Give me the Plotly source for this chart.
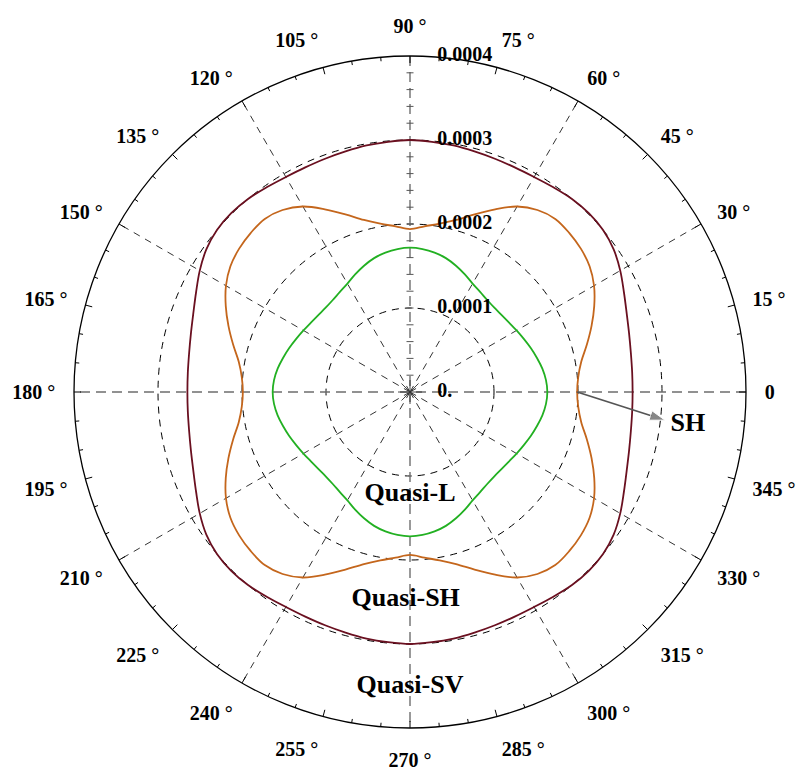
import plotly.graph_objects as go

# Phase-velocity-like curves, radial values in units of 1e-4, sampled every 5 degrees
theta = list(range(0, 360, 5))

quasi_l = [
    1.635, 1.625, 1.60, 1.565, 1.53, 1.495, 1.465, 1.44, 1.425, 1.42, 1.43, 1.455, 1.49, 1.545, 1.60, 1.65, 1.685, 1.708, 1.718,
    1.708, 1.685, 1.65, 1.60, 1.545, 1.49, 1.455, 1.43, 1.42, 1.425, 1.44, 1.465, 1.495, 1.53, 1.565, 1.60, 1.625, 1.635,
    1.625, 1.60, 1.565, 1.53, 1.495, 1.465, 1.44, 1.425, 1.42, 1.43, 1.455, 1.49, 1.545, 1.60, 1.65, 1.685, 1.708, 1.718,
    1.708, 1.685, 1.65, 1.60, 1.545, 1.49, 1.455, 1.43, 1.42, 1.425, 1.44, 1.465, 1.495, 1.53, 1.565, 1.60, 1.625,
]
quasi_sh = [
    1.99, 2.01, 2.07, 2.18, 2.30, 2.42, 2.53, 2.61, 2.655, 2.68, 2.69, 2.645, 2.55, 2.40, 2.25, 2.12, 2.035, 1.98, 1.94,
    1.98, 2.035, 2.12, 2.25, 2.40, 2.55, 2.645, 2.69, 2.68, 2.655, 2.61, 2.53, 2.42, 2.30, 2.18, 2.07, 2.01, 1.99,
    2.01, 2.07, 2.18, 2.30, 2.42, 2.53, 2.61, 2.655, 2.68, 2.69, 2.645, 2.55, 2.40, 2.25, 2.12, 2.035, 1.98, 1.94,
    1.98, 2.035, 2.12, 2.25, 2.40, 2.55, 2.645, 2.69, 2.68, 2.655, 2.61, 2.53, 2.42, 2.30, 2.18, 2.07, 2.01,
]
quasi_sv = [
    2.65, 2.655, 2.67, 2.70, 2.745, 2.81, 2.89, 2.96, 3.0, 3.01, 3.0, 2.975, 2.955, 2.95, 2.955, 2.965, 2.98, 2.99, 3.0,
    2.99, 2.98, 2.965, 2.955, 2.95, 2.955, 2.975, 3.0, 3.01, 3.0, 2.96, 2.89, 2.81, 2.745, 2.70, 2.67, 2.655, 2.65,
    2.655, 2.67, 2.70, 2.745, 2.81, 2.89, 2.96, 3.0, 3.01, 3.0, 2.975, 2.955, 2.95, 2.955, 2.965, 2.98, 2.99, 3.0,
    2.99, 2.98, 2.965, 2.955, 2.95, 2.955, 2.975, 3.0, 3.01, 3.0, 2.96, 2.89, 2.81, 2.745, 2.70, 2.67, 2.655,
]
UNIT = 1e-4

radial_ticks = [0, 0.0001, 0.0002, 0.0003, 0.0004]
radial_labels = ["0.", "0.0001", "0.0002", "0.0003", "0.0004"]
radial_minor = [0.00002 * k for k in range(1, 20)]
angle_ticks = list(range(0, 360, 5))
angle_labels = [("0" if a == 0 else f"{a} °") if a % 15 == 0 else "" for a in angle_ticks]
spoke_angles = [30, 60, 120, 150, 210, 240, 300, 330]
R_MAX = 0.0004

FONT = "Liberation Serif"
GREEN = "#22b022"
ORANGE = "#c4661c"
MAROON = "#6a1020"


def closed(vals):
    return [v * UNIT for v in vals] + [vals[0] * UNIT]


th_closed = theta + [theta[0]]

fig = go.Figure()

# dashed spokes every 30 degrees
sr, st = [], []
for a in spoke_angles:
    sr += [0, R_MAX, None]
    st += [a, a, None]
fig.add_trace(go.Scatterpolar(r=sr, theta=st, mode="lines",
                              line=dict(color="black", width=0.8, dash="7px,6px"),
                              hoverinfo="skip"))

# main axes through the origin
fig.add_trace(go.Scatterpolar(r=[R_MAX, 0, R_MAX, None, R_MAX, 0, R_MAX],
                              theta=[0, 0, 180, None, 90, 0, 270],
                              mode="lines",
                              line=dict(color="#6e6e6e", width=1.4, dash="10px,6px"),
                              hoverinfo="skip"))

# small ticks along the vertical radial axis
fig.add_trace(go.Scatterpolar(r=radial_minor, theta=[90] * len(radial_minor), mode="markers",
                              marker=dict(symbol="line-ew-open", size=5, color="#555555",
                                          line=dict(color="#555555", width=1)),
                              hoverinfo="skip"))

# inward ticks on the outer circle: longer every 15 degrees
tr, tt = [], []
for a in angle_ticks:
    inner = R_MAX * (1 - (7 if a % 15 == 0 else 4) / 336)
    tr += [inner, R_MAX, None]
    tt += [a, a, None]
fig.add_trace(go.Scatterpolar(r=tr, theta=tt, mode="lines",
                              line=dict(color="black", width=1), hoverinfo="skip"))

# curves
for vals, col in [(quasi_sv, MAROON), (quasi_sh, ORANGE), (quasi_l, GREEN)]:
    fig.add_trace(go.Scatterpolar(r=closed(vals), theta=th_closed, mode="lines",
                                  line=dict(color=col, width=1.8, shape="spline"),
                                  hoverinfo="skip"))

# origin star
fig.add_trace(go.Scatterpolar(r=[0], theta=[0], mode="markers",
                              marker=dict(symbol="asterisk-open", size=20, color="#333333",
                                          line=dict(color="#333333", width=0.9)),
                              hoverinfo="skip"))

# SH pointer
arrow_tip = (0.0003054, 353.7)
fig.add_trace(go.Scatterpolar(r=[quasi_sh[0] * UNIT, arrow_tip[0]],
                              theta=[0, arrow_tip[1]],
                              mode="lines+markers",
                              line=dict(color="#555555", width=1.8),
                              marker=dict(symbol=["circle", "arrow"], size=[0, 16],
                                          angleref="previous", color="#555555"),
                              hoverinfo="skip"))

# radial value labels to the right of the vertical axis
fig.add_trace(go.Scatterpolar(r=radial_ticks, theta=[90] * len(radial_ticks),
                              mode="markers+text", text=radial_labels,
                              textposition="middle right",
                              marker=dict(size=42, color="rgba(0,0,0,0)"),
                              textfont=dict(family=FONT, size=20, color="black", weight="bold"),
                              hoverinfo="skip"))

# text labels
labels = [("SH", 0.000333, 353.3), ("Quasi-L", 0.0001226, 270),
          ("Quasi-SH", 0.000247, 268.8), ("Quasi-SV", 0.000351, 270)]
fig.add_trace(go.Scatterpolar(r=[l[1] for l in labels], theta=[l[2] for l in labels],
                              mode="text", text=[l[0] for l in labels],
                              textposition="middle center",
                              textfont=dict(family=FONT, size=26, color="black", weight="bold"),
                              hoverinfo="skip"))

fig.update_layout(
    width=802, height=773,
    margin=dict(l=74, r=56, t=56, b=45),
    paper_bgcolor="white",
    showlegend=False,
    polar=dict(
        bgcolor="white",
        domain=dict(x=[0, 1], y=[0, 1]),
        radialaxis=dict(
            range=[0, R_MAX], angle=90,
            tickvals=radial_ticks, showticklabels=False,
            showline=False, ticks="",
            showgrid=True, gridcolor="black", gridwidth=0.8, griddash="7px,6px",
        ),
        angularaxis=dict(
            rotation=0, direction="counterclockwise",
            tickvals=angle_ticks, ticktext=angle_labels,
            ticks="outside", ticklen=14, tickcolor="rgba(0,0,0,0)",
            showline=True, linecolor="black", linewidth=1.3,
            showgrid=False,
            tickfont=dict(family=FONT, size=20, color="black", weight="bold"),
        ),
    ),
)

fig.write_html("out.html")
